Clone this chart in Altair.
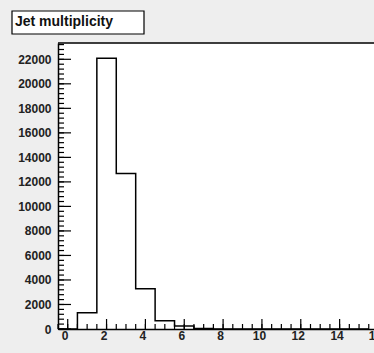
import altair as alt
import pandas as pd
import numpy as np

# Histogram: bin centres (0..15) and counts
bin_centers = list(range(16))
counts = [0, 1320, 22080, 12680, 3285, 670, 245, 40, 0, 0, 0, 0, 0, 0, 0, 0]

# Axis tick values
x_major = [0, 2, 4, 6, 8, 10, 12, 14, 16]
y_major = [0, 2000, 4000, 6000, 8000, 10000, 12000, 14000, 16000, 18000, 20000, 22000]
x_minor = [v / 2 for v in range(-1, 33)]
y_minor = list(range(0, 23400, 400))
x_clipped_label = [16]

title_text = "Jet multiplicity"

X_DOMAIN = [-0.5, 15.77]
Y_DOMAIN = [0, 23330]
W, H = 316, 286

edges = [c - 0.5 for c in bin_centers] + [bin_centers[-1] + 0.5]
hist_df = pd.DataFrame({"edge": edges, "count": counts + [counts[-1]]})

FONT = "Liberation Sans"
xaxis = alt.Axis(values=x_major, format="d", ticks=False, grid=False, title=None,
                 domainColor="black", domainWidth=1.5, labelPadding=1, labelOffset=-3,
                 labelFont=FONT, labelFontSize=12, labelFontWeight="bold",
                 labelColor="#222222", labelFlush=False, labelOverlap=False)
yaxis = alt.Axis(values=y_major, format="d", ticks=False, grid=False, title=None,
                 domainColor="black", domainWidth=1.5, labelPadding=7,
                 labelFont=FONT, labelFontSize=12, labelFontWeight="bold",
                 labelColor="#222222", labelOverlap=False)

xs = alt.Scale(domain=X_DOMAIN, nice=False, zero=False)
ys = alt.Scale(domain=Y_DOMAIN, nice=False)

hist = alt.Chart(hist_df).mark_line(interpolate="step-after", color="black",
                                    strokeWidth=1.5).encode(
    x=alt.X("edge:Q", scale=xs, axis=xaxis),
    y=alt.Y("count:Q", scale=ys, axis=yaxis),
)

ymaj = alt.Chart(pd.DataFrame({"v": y_major})).mark_rule(color="black", strokeWidth=1.2).encode(
    y=alt.Y("v:Q", scale=ys, axis=yaxis), x=alt.value(0), x2=alt.value(13))
ymin = alt.Chart(pd.DataFrame({"v": y_minor})).mark_rule(color="black", strokeWidth=1.2).encode(
    y=alt.Y("v:Q", scale=ys, axis=yaxis), x=alt.value(0), x2=alt.value(6))
xmaj = alt.Chart(pd.DataFrame({"v": x_major})).mark_rule(color="black", strokeWidth=1.2).encode(
    x=alt.X("v:Q", scale=xs, axis=xaxis), y=alt.value(H), y2=alt.value(H - 10))
xmin = alt.Chart(pd.DataFrame({"v": x_minor})).mark_rule(color="black", strokeWidth=1.2).encode(
    x=alt.X("v:Q", scale=xs, axis=xaxis), y=alt.value(H), y2=alt.value(H - 5))
xlab16 = alt.Chart(pd.DataFrame({"v": x_clipped_label})).mark_text(
    align="center", baseline="top", font=FONT, fontSize=12, fontWeight="bold",
    color="#222222", dx=-3).encode(
    x=alt.X("v:Q", scale=xs, axis=xaxis), y=alt.value(H + 2), text=alt.Text("v:Q", format="d"))

one = alt.Data(values=[{"t": title_text}])
top_line = alt.Chart(one).mark_rule(color="black", strokeWidth=1.5).encode(
    x=alt.value(0), x2=alt.value(W), y=alt.value(0))
title_box = alt.Chart(one).mark_rect(fill="white", stroke="black", strokeWidth=1.2).encode(
    x=alt.value(-46), x2=alt.value(86), y=alt.value(-32), y2=alt.value(-9))
title_txt = alt.Chart(one).mark_text(align="left", baseline="middle", font=FONT,
                                     fontSize=14, fontWeight="bold", color="#111111").encode(
    x=alt.value(-43), y=alt.value(-21), text="t:N")

chart = alt.layer(hist, ymin, ymaj, xmin, xmaj, xlab16, top_line, title_box, title_txt).properties(
    width=W, height=H,
    autosize=alt.AutoSizeParams(type="none"),
    padding={"left": 58, "top": 43, "right": 0, "bottom": 24},
    background="#eeeeee",
).configure_view(fill="white", stroke="transparent")

chart.save("out.html", embed_options={"renderer": "svg", "actions": False})
